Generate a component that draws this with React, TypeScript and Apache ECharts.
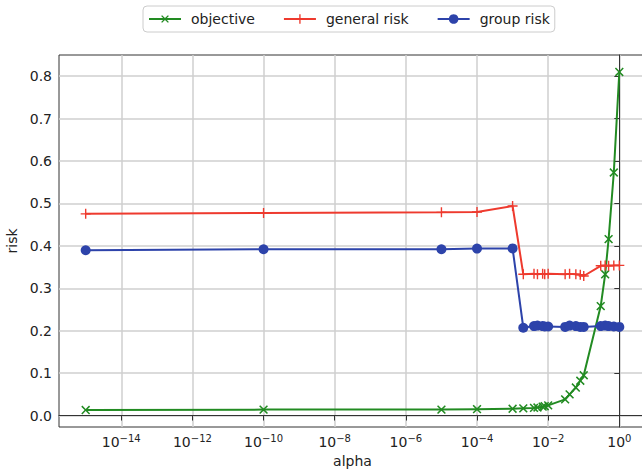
import React, { useEffect, useRef } from "react";
import * as echarts from "echarts";

// alpha values (x), one entry per point
const alphas = [
  1e-15, 1e-10, 1e-5, 1e-4, 1e-3, 0.002, 0.004, 0.005, 0.007, 0.008, 0.01,
  0.03, 0.04, 0.06, 0.08, 0.1, 0.3, 0.4, 0.5, 0.7, 1.0,
];
const objective = [
  0.013, 0.014, 0.014, 0.015, 0.016, 0.017, 0.018, 0.019, 0.021, 0.022, 0.024,
  0.038, 0.05, 0.066, 0.082, 0.095, 0.258, 0.333, 0.416, 0.573, 0.81,
];
const generalRisk = [
  0.4755, 0.4775, 0.479, 0.48, 0.494, 0.333, 0.334, 0.333, 0.334, 0.333, 0.334,
  0.333, 0.334, 0.333, 0.332, 0.329, 0.353, 0.354, 0.353, 0.354, 0.354,
];
const groupRisk = [
  0.3896, 0.392, 0.392, 0.3936, 0.394, 0.207, 0.211, 0.212, 0.211, 0.21, 0.21,
  0.209, 0.212, 0.211, 0.209, 0.209, 0.211, 0.212, 0.211, 0.21, 0.209,
];
const seriesNames = ["objective", "general risk", "group risk"];
const xTickExponents = [-14, -12, -10, -8, -6, -4, -2, 0];
const yTicks = [0, 0.1, 0.2, 0.3, 0.4, 0.5, 0.6, 0.7, 0.8];

const FONT = "DejaVu Sans";
const PLUS = "path://M4.3,0H5.7V4.3H10V5.7H5.7V10H4.3V5.7H0V4.3H4.3Z";

export default function App() {
  const ref = useRef<HTMLDivElement>(null);
  useEffect(() => {
    if (!ref.current) return;
    const chart = echarts.init(ref.current, null, { renderer: "svg" });
    const toData = (vals: number[]) =>
      alphas.map((a, i) => [Math.log10(a), vals[i]]);
    chart.setOption({
      animation: false,
      backgroundColor: "#fff",
      textStyle: { fontFamily: FONT },
      legend: {
        left: 143,
        top: 6,
        padding: [6, 5, 6, 5],
        borderColor: "#cccccc",
        borderWidth: 1,
        borderRadius: 4,
        itemWidth: 32,
        itemHeight: 12,
        itemGap: 28,
        textStyle: { fontFamily: FONT, fontSize: 14, color: "#222", padding: [0, 0, 0, 5] },
        data: seriesNames,
      },
      grid: {
        left: 59,
        right: -4,
        top: 55,
        bottom: 46,
        show: true,
        borderColor: "#333",
        borderWidth: 1,
        outerBoundsMode: "none",
        containLabel: false,
      },
      xAxis: {
        type: "value",
        min: -15.75,
        max: 0.75,
        name: "alpha",
        nameLocation: "middle",
        nameGap: 27,
        nameTextStyle: { fontFamily: FONT, fontSize: 14, color: "#222" },
        axisLine: { show: true, lineStyle: { color: "#333", width: 1 } },
        axisTick: {
          show: true,
          length: 5,
          lineStyle: { color: "#333" },
          customValues: xTickExponents,
        },
        splitLine: { show: true, lineStyle: { color: "#cfcfcf", width: 1.5 } },
        axisLabel: {
          customValues: xTickExponents,
          margin: 6,
          color: "#222",
          formatter: (v: number) => {
            const e = Math.round(v);
            const s = e < 0 ? "\u2212" + -e : String(e);
            return "{b|10}{sup|" + s + "}";
          },
          rich: {
            b: { fontFamily: FONT, fontSize: 14, color: "#222", lineHeight: 16, verticalAlign: "bottom" },
            sup: { fontFamily: FONT, fontSize: 10, color: "#222", lineHeight: 12, verticalAlign: "bottom", padding: [0, 0, 6, 0] },
          },
        },
      },
      yAxis: {
        type: "value",
        min: -0.027,
        max: 0.85,
        name: "risk",
        nameLocation: "middle",
        nameGap: 40,
        nameTextStyle: { fontFamily: FONT, fontSize: 14, color: "#222" },
        axisLine: { show: true, lineStyle: { color: "#333", width: 1 } },
        axisTick: {
          show: true,
          length: 5,
          lineStyle: { color: "#333" },
          customValues: yTicks,
        },
        splitLine: { show: true, lineStyle: { color: "#cfcfcf", width: 1.5 } },
        axisLabel: {
          customValues: yTicks,
          margin: 7,
          fontFamily: FONT,
          fontSize: 14,
          color: "#222",
          formatter: (v: number) => v.toFixed(1),
        },
      },
      series: [
        {
          name: seriesNames[0],
          type: "line",
          data: toData(objective),
          symbol: PLUS,
          symbolRotate: 45,
          symbolSize: 11,
          color: "#228b22",
          lineStyle: { width: 2, color: "#228b22" },
          itemStyle: { color: "#228b22" },
        },
        {
          name: seriesNames[1],
          type: "line",
          data: toData(generalRisk),
          symbol: PLUS,
          symbolSize: 10,
          color: "#ee3a2e",
          lineStyle: { width: 2, color: "#ee3a2e" },
          itemStyle: { color: "#ee3a2e" },
        },
        {
          name: seriesNames[2],
          type: "line",
          data: toData(groupRisk),
          symbol: "circle",
          symbolSize: 10,
          color: "#2d43aa",
          lineStyle: { width: 2, color: "#2d43aa" },
          itemStyle: { color: "#2d43aa", borderWidth: 0 },
        },
      ],
    });
    return () => chart.dispose();
  }, []);
  return (
    <div
      ref={ref}
      style={{ position: "fixed", left: 0, top: 0, width: 642, height: 473, background: "#fff" }}
    />
  );
}
